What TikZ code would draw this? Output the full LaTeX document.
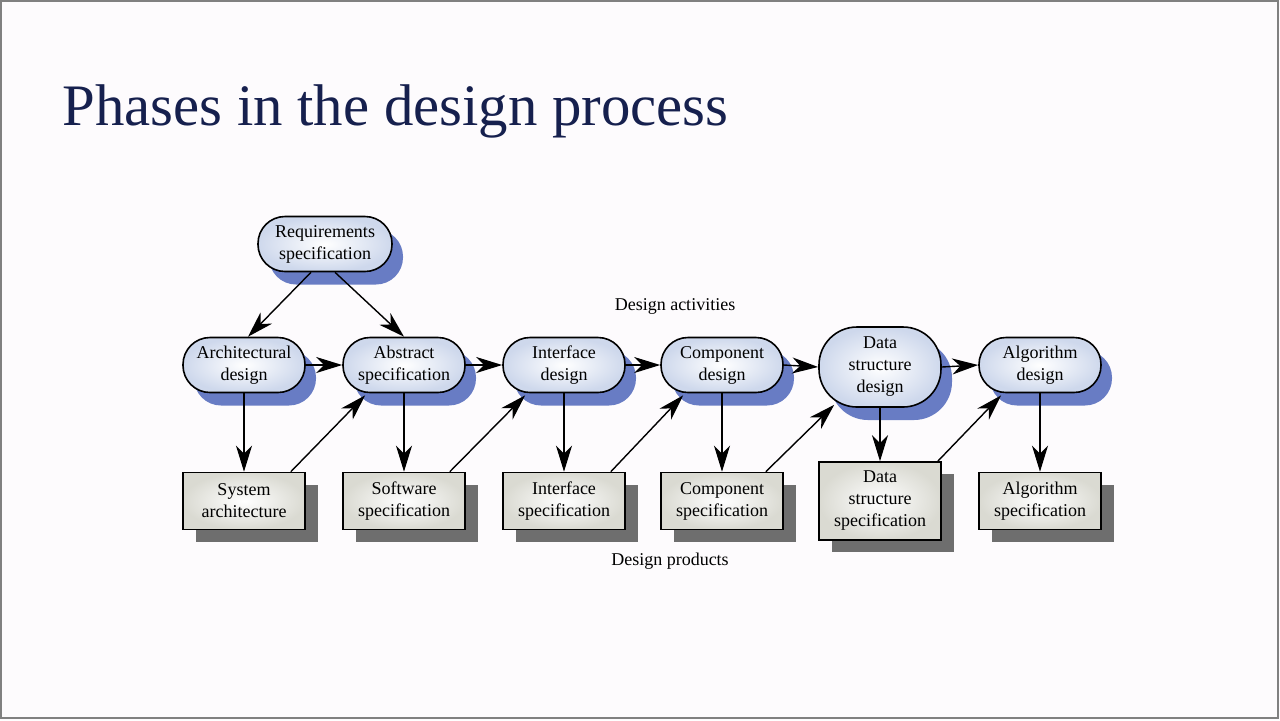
\documentclass[tikz,border=0pt]{standalone}
\usepackage{fontspec}
\setmainfont{Liberation Serif}
\usetikzlibrary{arrows.meta,positioning,shadows}
\definecolor{titlenavy}{RGB}{22,32,78}
\definecolor{actfill}{RGB}{206,216,236}
\definecolor{actshadow}{RGB}{104,124,196}
\definecolor{prodfill}{RGB}{218,218,210}
\definecolor{prodshadow}{RGB}{110,110,110}
\definecolor{slidebg}{RGB}{253,251,253}
\definecolor{framegray}{RGB}{128,128,128}

\begin{document}
\begin{tikzpicture}[x=0.5pt, y=-0.5pt, >=latex, font=\fontsize{9}{11}\selectfont,
  activity/.style={draw, rounded corners=13.5pt, line width=0.8pt,
                   minimum width=61pt, minimum height=27.5pt, inner sep=0pt,
                   align=center, shade, inner color=white, outer color=actfill,
                   drop shadow={shadow xshift=5.5pt, shadow yshift=-6.5pt,
                                fill=actshadow, opacity=1}},
  product/.style={draw, line width=0.8pt,
                  minimum width=61pt, minimum height=28.5pt, inner sep=0pt,
                  align=center, shade, inner color=white, outer color=prodfill,
                  drop shadow={shadow xshift=6.5pt, shadow yshift=-6pt,
                               fill=prodshadow, opacity=1}},
  flow/.style={-{Stealth[length=13pt, width=8pt, inset=4pt]}, line width=0.7pt},
  ]

% ======================================================================
% Slide background and frame
% ======================================================================
\useasboundingbox (0,0) rectangle (1280,720);
\fill[slidebg] (0,0) rectangle (1280,720);
\draw[framegray, line width=1pt] (1,1) rectangle (1278,718);

\node[anchor=base west, font=\fontsize{29.4}{32}\selectfont, text=titlenavy,
      inner sep=0pt]
  (title) at (62,125) {Phases in the design process};

% ======================================================================
% Requirements and design activities
% ======================================================================
\def\acty{365}
\def\prody{501}

\node[activity, minimum width=67pt] (reqspec) at (325,244)
  {Requirements\\specification};

\node[activity] (archdes)  at (244,\acty)  {Architectural\\design};
\node[activity] (abstspec) at (404,\acty)  {Abstract\\specification};
\node[activity] (ifacedes) at (564,\acty)  {Interface\\design};
\node[activity] (compdes)  at (722,\acty)  {Component\\design};
\node[activity, minimum height=40pt, rounded corners=19pt]
  (datades) at (880,367) {Data\\structure\\design};
\node[activity] (algodes)  at (1040,\acty) {Algorithm\\design};

\node (actlabel) at (675,306) {Design activities};

% ======================================================================
% Design products
% ======================================================================
\node[product] (sysarch)    at (244,\prody)  {System\\architecture};
\node[product] (softspec)   at (404,\prody)  {Software\\specification};
\node[product] (ifacespec)  at (564,\prody)  {Interface\\specification};
\node[product] (compspec)   at (722,\prody)  {Component\\specification};
\node[product, minimum height=39pt]
  (datastruct) at (880,\prody) {Data\\structure\\specification};
\node[product] (algospec)   at (1040,\prody) {Algorithm\\specification};

\node (prodlabel) at (670,561) {Design products};

% ======================================================================
% Arrows
% ======================================================================
\draw[flow] ([xshift=-7pt]reqspec.south) -- ([xshift=2pt]archdes.north);
\draw[flow] ([xshift=5pt]reqspec.south) -- (abstspec.north);

\foreach \a/\b in {archdes/abstspec, abstspec/ifacedes, ifacedes/compdes,
                   compdes/datades, datades/algodes} {
  \draw[flow] (\a.east) -- (\b.west);
}

\foreach \a/\b in {archdes/sysarch, abstspec/softspec, ifacedes/ifacespec,
                   compdes/compspec, datades/datastruct, algodes/algospec} {
  \draw[flow] (\a.south) -- (\b.north);
}

% products feed the next activity
\foreach \p/\s/\a in {sysarch/-7.5/abstspec, softspec/-8/ifacedes,
                      ifacespec/-7.5/compdes, datastruct/-2/algodes} {
  \draw[flow] ([xshift=\s pt]\p.north east) -- ([xshift=11.5pt, yshift=-1pt]\a.south west);
}
\draw[flow] ([xshift=-9pt]compspec.north east) -- ([xshift=8pt, yshift=1.5pt]datades.south west);

\end{tikzpicture}
\end{document}
